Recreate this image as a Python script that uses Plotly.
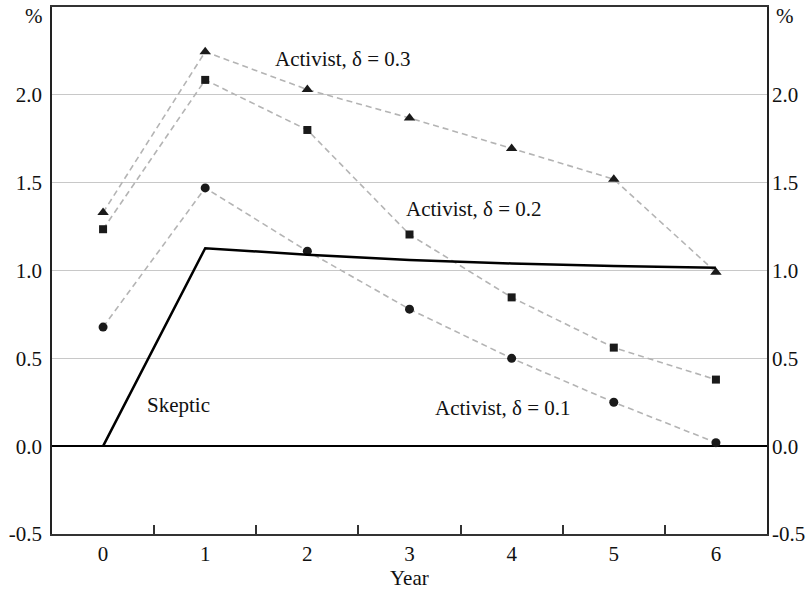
import plotly.graph_objects as go

years = [0, 1, 2, 3, 4, 5, 6]
activist_01 = [0.678, 1.47, 1.11, 0.78, 0.50, 0.25, 0.02]
activist_02 = [1.235, 2.085, 1.80, 1.205, 0.847, 0.561, 0.379]
activist_03 = [1.33, 2.245, 2.03, 1.868, 1.695, 1.52, 0.99]
skeptic = [0.0, 1.127, 1.09, 1.06, 1.04, 1.025, 1.015]
y_ticks = [-0.5, 0.0, 0.5, 1.0, 1.5, 2.0]
y_tick_text = ["-0.5", "0.0", "0.5", "1.0", "1.5", "2.0"]

FONT = "Liberation Serif, Times New Roman, serif"
FS = 21
DASH_COLOR = "#b4b4b4"

fig = go.Figure()

def activist(vals, symbol, size):
    fig.add_trace(go.Scatter(
        x=years, y=vals, mode="lines+markers",
        line=dict(color=DASH_COLOR, width=1.6, dash="6px,4px"),
        marker=dict(symbol=symbol, size=size, color="#1a1a1a"),
        showlegend=False, cliponaxis=False))

activist(activist_03, "triangle-up", 10)
activist(activist_02, "square", 8)
activist(activist_01, "circle", 9)

fig.add_trace(go.Scatter(
    x=years, y=skeptic, mode="lines",
    line=dict(color="black", width=2.5),
    showlegend=False))

# invisible trace for right axis
fig.add_trace(go.Scatter(x=[0], y=[0], yaxis="y2", mode="markers",
                         marker=dict(opacity=0), showlegend=False, hoverinfo="skip"))

annots = [
    dict(x=1.659, y=2.205, text="Activist, δ = 0.3"),
    dict(x=2.946, y=1.352, text="Activist, δ = 0.2"),
    dict(x=3.228, y=0.216, text="Activist, δ = 0.1"),
    dict(x=0.412, y=0.233, text="Skeptic"),
]
for a in annots:
    fig.add_annotation(x=a["x"], y=a["y"], text=a["text"], xref="x", yref="y",
                       xanchor="left", yanchor="middle", showarrow=False,
                       font=dict(family=FONT, size=FS, color="#111"))

fig.add_annotation(x=0, y=1, xref="paper", yref="paper", text="%", showarrow=False,
                   xanchor="right", yanchor="middle", xshift=-7, yshift=-9,
                   font=dict(family=FONT, size=FS, color="#111"))
fig.add_annotation(x=1, y=1, xref="paper", yref="paper", text="%", showarrow=False,
                   xanchor="left", yanchor="middle", xshift=7, yshift=-9,
                   font=dict(family=FONT, size=FS, color="#111"))
fig.add_annotation(x=0.5, y=0, xref="paper", yref="paper", text="Year", showarrow=False,
                   xanchor="center", yanchor="middle", yshift=-44,
                   font=dict(family=FONT, size=FS, color="#111"))

fig.update_layout(
    width=810, height=595,
    margin=dict(l=51.5, r=40.5, t=5, b=61),
    paper_bgcolor="white", plot_bgcolor="white",
    font=dict(family=FONT, size=FS, color="#111"),
    xaxis=dict(
        range=[-0.5, 6.5], tickvals=years, ticktext=[str(y) for y in years],
        ticks="", showgrid=False, zeroline=False,
        showline=True, linecolor="#333", linewidth=1.5, mirror=True,
        minor=dict(tickvals=[0.5, 1.5, 2.5, 3.5, 4.5, 5.5], ticks="inside",
                   ticklen=9, tickwidth=1.5, tickcolor="#333", showgrid=False),
        fixedrange=True,
    ),
    yaxis=dict(
        range=[-0.5, 2.5], tickvals=y_ticks, ticktext=y_tick_text,
        ticks="", showgrid=True, gridcolor="#c8c8c8", gridwidth=1.3,
        zeroline=True, zerolinecolor="black", zerolinewidth=1.5,
        showline=True, linecolor="#222", linewidth=1.5, mirror=True,
        ticklabelstandoff=4,
    ),
    yaxis2=dict(
        range=[-0.5, 2.5], tickvals=y_ticks, ticktext=y_tick_text,
        overlaying="y", side="right", showgrid=False, zeroline=False,
        ticks="", showline=False, ticklabelstandoff=4,
    ),
)

fig.write_html("out.html", config={"displayModeBar": False},
               post_script="document.body.style.margin='0';")
